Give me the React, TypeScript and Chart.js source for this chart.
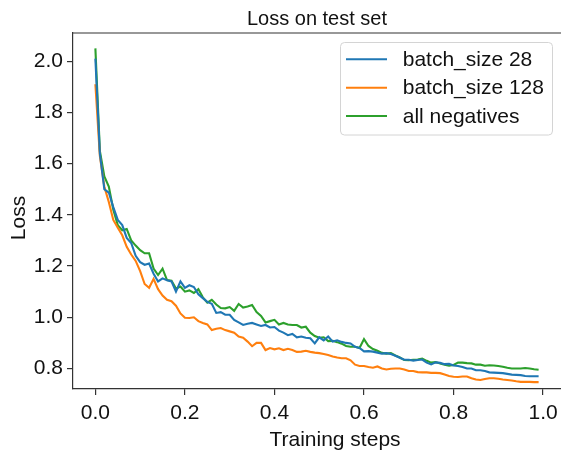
import React, { useEffect, useRef } from "react";
import { Chart, registerables } from "chart.js";

Chart.register(...registerables);

const FONT = "'Liberation Sans', Arial, Helvetica, sans-serif";

const titleText = "Loss on test set";
const xLabel = "Training steps";
const yLabel = "Loss";

const steps = [
  0.0, 0.01, 0.02, 0.03, 0.04, 0.05, 0.06, 0.07, 0.08, 0.09,
  0.1, 0.11, 0.12, 0.13, 0.14, 0.15, 0.16, 0.17, 0.18, 0.19,
  0.2, 0.21, 0.22, 0.23, 0.24, 0.25, 0.26, 0.27, 0.28, 0.29,
  0.3, 0.31, 0.32, 0.33, 0.34, 0.35, 0.36, 0.37, 0.38, 0.39,
  0.4, 0.41, 0.42, 0.43, 0.44, 0.45, 0.46, 0.47, 0.48, 0.49,
  0.5, 0.51, 0.52, 0.53, 0.54, 0.55, 0.56, 0.57, 0.58, 0.59,
  0.6, 0.61, 0.62, 0.63, 0.64, 0.65, 0.66, 0.67, 0.68, 0.69,
  0.7, 0.71, 0.72, 0.73, 0.74, 0.75, 0.76, 0.77, 0.78, 0.79,
  0.8, 0.81, 0.82, 0.83, 0.84, 0.85, 0.86, 0.87, 0.88, 0.89,
  0.9, 0.91, 0.92, 0.93, 0.94, 0.95, 0.96, 0.97, 0.98, 0.99,
];

const batch28 = [
  2.01, 1.64, 1.5, 1.487, 1.43, 1.38, 1.36, 1.31, 1.29, 1.24,
  1.215, 1.205, 1.21, 1.17, 1.14, 1.152, 1.145, 1.14, 1.1, 1.14,
  1.115, 1.125, 1.118, 1.09, 1.075, 1.06, 1.053, 1.017, 1.02, 1.01,
  1.01, 0.99, 0.98, 0.97, 0.975, 0.978, 0.972, 0.966, 0.97, 0.96,
  0.962, 0.948, 0.94, 0.93, 0.935, 0.922, 0.925, 0.92, 0.918, 0.898,
  0.922, 0.91, 0.925, 0.905, 0.91, 0.904, 0.9, 0.898, 0.885, 0.88,
  0.867, 0.868, 0.866, 0.862, 0.858, 0.86, 0.857, 0.85, 0.842, 0.834,
  0.834, 0.831, 0.833, 0.835, 0.823, 0.816, 0.824, 0.822, 0.817, 0.818,
  0.812, 0.81, 0.806, 0.8, 0.8, 0.793, 0.793, 0.79, 0.785, 0.784,
  0.783, 0.782, 0.779, 0.776, 0.775, 0.774, 0.771, 0.77, 0.77, 0.77,
];

const batch128 = [
  1.91, 1.63, 1.51, 1.45, 1.38, 1.35, 1.32, 1.275, 1.245, 1.22,
  1.18, 1.13, 1.115, 1.15, 1.11, 1.085, 1.068, 1.063, 1.045, 1.015,
  0.998, 0.997, 1.0, 0.985, 0.978, 0.972, 0.95, 0.955, 0.958, 0.95,
  0.945, 0.94, 0.925, 0.92, 0.905, 0.887, 0.9, 0.9, 0.872, 0.88,
  0.875, 0.879, 0.872, 0.877, 0.872, 0.865, 0.866, 0.869, 0.865, 0.862,
  0.86, 0.857, 0.853, 0.847, 0.843, 0.84, 0.84, 0.832, 0.815, 0.81,
  0.81, 0.806, 0.803, 0.808, 0.8, 0.796, 0.799, 0.8, 0.8, 0.796,
  0.79, 0.79, 0.786, 0.785, 0.785, 0.783, 0.783, 0.782, 0.777, 0.771,
  0.768, 0.767, 0.769, 0.769, 0.762, 0.757, 0.755, 0.759, 0.762, 0.762,
  0.76, 0.757, 0.755, 0.753, 0.75, 0.748, 0.748, 0.748, 0.747, 0.747,
];

const allNegatives = [
  2.05, 1.65, 1.55, 1.51, 1.42, 1.36, 1.34, 1.345, 1.3, 1.28,
  1.262, 1.25, 1.25, 1.19, 1.165, 1.19, 1.145, 1.143, 1.112, 1.12,
  1.1, 1.105, 1.095, 1.11, 1.078, 1.057, 1.068, 1.05, 1.036, 1.035,
  1.04, 1.025, 1.052, 1.038, 1.042, 1.048, 1.02, 1.005, 0.98, 0.985,
  0.99, 0.972, 0.978, 0.972, 0.97, 0.97, 0.96, 0.963, 0.94, 0.927,
  0.92, 0.922, 0.907, 0.908, 0.903, 0.897, 0.888, 0.885, 0.885, 0.88,
  0.915, 0.888, 0.876, 0.869, 0.861, 0.858, 0.86, 0.851, 0.843, 0.833,
  0.832, 0.834, 0.835, 0.839, 0.83, 0.823, 0.825, 0.82, 0.815, 0.811,
  0.814, 0.823, 0.823, 0.821, 0.82, 0.815, 0.815, 0.811, 0.813, 0.812,
  0.81, 0.807, 0.803, 0.8, 0.8, 0.8, 0.802, 0.8, 0.797, 0.795,
];

const seriesLabels = ["batch_size 28", "batch_size 128", "all negatives"];
const seriesColors = ["#1f77b4", "#ff7f0e", "#2ca02c"];
const seriesValues = [batch28, batch128, allNegatives];

const xTicks = [0.0, 0.2, 0.4, 0.6, 0.8, 1.0];
const yTicks = [0.8, 1.0, 1.2, 1.4, 1.6, 1.8, 2.0];

export default function App() {
  const ref = useRef<HTMLCanvasElement>(null);

  useEffect(() => {
    document.body.style.margin = "0";
    const canvas = ref.current;
    if (!canvas) return;

    const decor = {
      id: "decor",
      afterDraw(chart: any) {
        const { ctx, chartArea: a } = chart;
        ctx.save();
        // top frame
        ctx.strokeStyle = "#333";
        ctx.lineWidth = 1.2;
        ctx.beginPath();
        ctx.moveTo(a.left, a.top);
        ctx.lineTo(a.right, a.top);
        ctx.stroke();

        // title
        ctx.fillStyle = "#111";
        ctx.textAlign = "center";
        ctx.textBaseline = "alphabetic";
        ctx.font = `20px ${FONT}`;
        ctx.fillText(titleText, 317, 25);

        // x label
        ctx.font = `21px ${FONT}`;
        ctx.fillText(xLabel, 335, 446);

        // y label
        ctx.save();
        ctx.translate(25, 218);
        ctx.rotate(-Math.PI / 2);
        ctx.fillText(yLabel, 0, 0);
        ctx.restore();

        // legend
        const bx = 340.5, by = 42.5, bw = 212, bh = 92.5, r = 4;
        ctx.beginPath();
        ctx.moveTo(bx + r, by);
        ctx.lineTo(bx + bw - r, by);
        ctx.arcTo(bx + bw, by, bx + bw, by + r, r);
        ctx.lineTo(bx + bw, by + bh - r);
        ctx.arcTo(bx + bw, by + bh, bx + bw - r, by + bh, r);
        ctx.lineTo(bx + r, by + bh);
        ctx.arcTo(bx, by + bh, bx, by + bh - r, r);
        ctx.lineTo(bx, by + r);
        ctx.arcTo(bx, by, bx + r, by, r);
        ctx.closePath();
        ctx.fillStyle = "rgba(255,255,255,0.9)";
        ctx.fill();
        ctx.strokeStyle = "#d4d4d4";
        ctx.lineWidth = 1;
        ctx.stroke();

        ctx.textAlign = "left";
        ctx.font = `21px ${FONT}`;
        seriesLabels.forEach((lab, i) => {
          const ly = 59.3 + i * 28.4;
          ctx.strokeStyle = seriesColors[i];
          ctx.lineWidth = 2;
          ctx.beginPath();
          ctx.moveTo(346, ly);
          ctx.lineTo(387, ly);
          ctx.stroke();
          ctx.fillStyle = "#111";
          ctx.fillText(lab, 402.7, ly + 6.6);
        });
        ctx.restore();
      },
    };

    const tickFont = { family: FONT, size: 21 };

    const chart = new Chart(canvas, {
      type: "line",
      data: {
        datasets: seriesLabels.map((lab, i) => ({
          label: lab,
          data: steps.map((x, j) => ({ x, y: seriesValues[i][j] })),
          borderColor: seriesColors[i],
          backgroundColor: seriesColors[i],
          borderWidth: 2.1,
          pointRadius: 0,
          tension: 0,
          fill: false,
        })),
      },
      options: {
        responsive: false,
        animation: false,
        layout: { padding: { top: 33, left: 0, right: 0, bottom: 0 } },
        plugins: {
          legend: { display: false },
          title: { display: false },
          tooltip: { enabled: false },
        },
        scales: {
          x: {
            type: "linear",
            min: -0.05,
            max: 1.04,
            afterBuildTicks: (s: any) => {
              s.ticks = xTicks.map((v) => ({ value: v }));
            },
            afterFit: (s: any) => {
              s.height = 62;
              s.paddingLeft = 0;
              s.paddingRight = 0;
            },
            grid: {
              display: true,
              drawOnChartArea: false,
              drawTicks: true,
              tickLength: 6,
              color: "#333",
              lineWidth: 1.2,
            },
            border: { display: true, color: "#333", width: 1.2 },
            ticks: {
              font: tickFont,
              color: "#111",
              padding: 6,
              maxRotation: 0,
              autoSkip: false,
              callback: (v: any) => Number(v).toFixed(1),
            },
          },
          y: {
            type: "linear",
            min: 0.72,
            max: 2.11,
            afterBuildTicks: (s: any) => {
              s.ticks = yTicks.map((v) => ({ value: v }));
            },
            afterFit: (s: any) => {
              s.width = 73;
              s.paddingTop = 0;
              s.paddingBottom = 0;
            },
            grid: {
              display: true,
              drawOnChartArea: false,
              drawTicks: true,
              tickLength: 6,
              color: "#333",
              lineWidth: 1.2,
            },
            border: { display: true, color: "#333", width: 1.2 },
            ticks: {
              font: tickFont,
              color: "#111",
              padding: 4,
              autoSkip: false,
              callback: (v: any) => Number(v).toFixed(1),
            },
          },
        },
      },
      plugins: [decor],
    });

    return () => chart.destroy();
  }, []);

  return (
    <div style={{ width: 561, height: 451, background: "#fff" }}>
      <canvas ref={ref} width={561} height={451} style={{ display: "block", width: 561, height: 451 }} />
    </div>
  );
}
